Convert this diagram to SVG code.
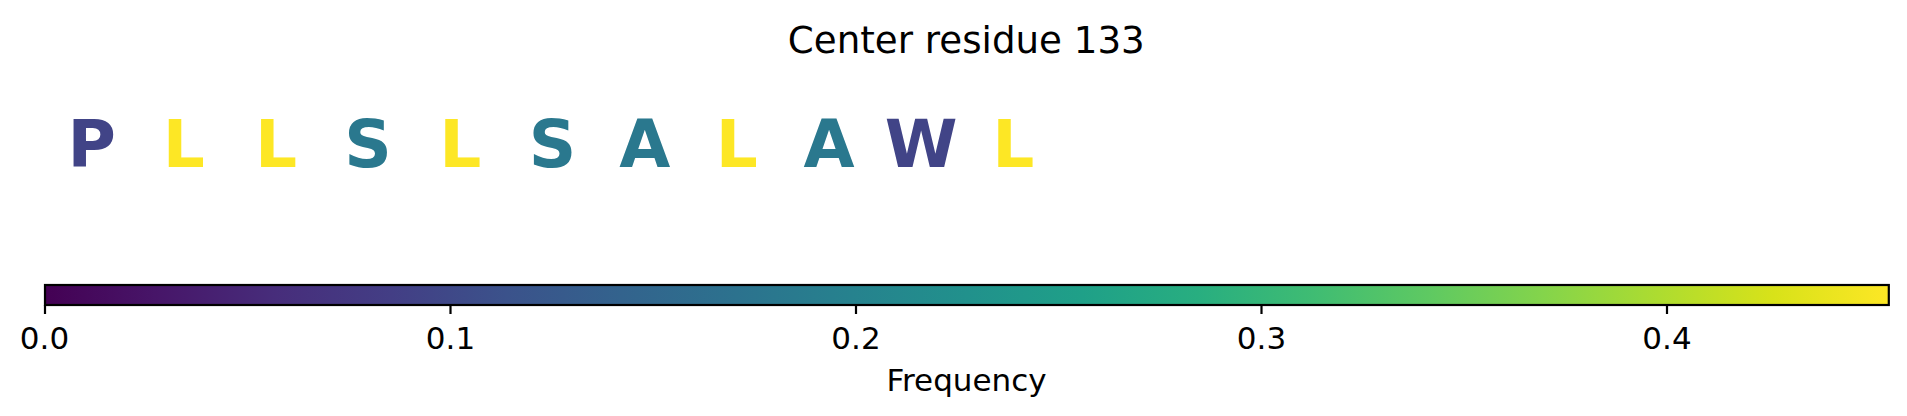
<svg xmlns="http://www.w3.org/2000/svg" width="1907" height="416" viewBox="0 0 1907 416">
<defs>
<linearGradient id="viridis" x1="0" y1="0" x2="1" y2="0">
<stop offset="0" stop-color="#440154"/>
<stop offset="0.0625" stop-color="#471669"/>
<stop offset="0.125" stop-color="#472d7b"/>
<stop offset="0.1875" stop-color="#433e85"/>
<stop offset="0.25" stop-color="#3b528b"/>
<stop offset="0.3125" stop-color="#33638d"/>
<stop offset="0.375" stop-color="#2c728e"/>
<stop offset="0.4375" stop-color="#26828e"/>
<stop offset="0.5" stop-color="#21918c"/>
<stop offset="0.5625" stop-color="#1fa088"/>
<stop offset="0.625" stop-color="#28ae80"/>
<stop offset="0.6875" stop-color="#3fbc73"/>
<stop offset="0.75" stop-color="#5ec962"/>
<stop offset="0.8125" stop-color="#84d44b"/>
<stop offset="0.875" stop-color="#addc30"/>
<stop offset="0.9375" stop-color="#d8e219"/>
<stop offset="1" stop-color="#fde725"/>
</linearGradient>
</defs>
<style>
.res{font-family:"DejaVu Sans",sans-serif;font-weight:bold;font-size:66px;text-anchor:middle}
.lbl{font-family:"DejaVu Sans",sans-serif;font-size:31px;fill:#000;text-anchor:middle}
.ttl{font-family:"DejaVu Sans",sans-serif;font-size:37.2px;fill:#000;text-anchor:middle}
.tick{stroke:#000;stroke-width:2.2}
</style>
<rect width="1907" height="416" fill="#fff"/>
<text class="ttl" x="966.3" y="52.5">Center residue 133</text>
<g id="residues">
<text id="r1" class="res" x="91.6" y="167.3" fill="#414487">P</text>
<text id="r2" class="res" x="183.8" y="167.3" fill="#fde725">L</text>
<text id="r3" class="res" x="276" y="167.3" fill="#fde725">L</text>
<text id="r4" class="res" x="368.1" y="167.3" fill="#2a788e">S</text>
<text id="r5" class="res" x="460.3" y="167.3" fill="#fde725">L</text>
<text id="r6" class="res" x="552.5" y="167.3" fill="#2a788e">S</text>
<text id="r7" class="res" x="644.7" y="167.3" fill="#2a788e">A</text>
<text id="r8" class="res" x="736.9" y="167.3" fill="#fde725">L</text>
<text id="r9" class="res" x="829" y="167.3" fill="#2a788e">A</text>
<text id="r10" class="res" x="921.2" y="167.3" fill="#414487">W</text>
<text id="r11" class="res" x="1013.4" y="167.3" fill="#fde725">L</text>
</g>
<g id="colorbar">
<rect x="45" y="285" width="1843.8" height="20" fill="url(#viridis)" stroke="#000" stroke-width="2.2"/>
<line class="tick" x1="45" y1="305" x2="45" y2="314"/>
<line class="tick" x1="450.5" y1="305" x2="450.5" y2="314"/>
<line class="tick" x1="856" y1="305" x2="856" y2="314"/>
<line class="tick" x1="1261.5" y1="305" x2="1261.5" y2="314"/>
<line class="tick" x1="1667" y1="305" x2="1667" y2="314"/>
<text class="lbl" x="44.5" y="349">0.0</text>
<text class="lbl" x="450.5" y="349">0.1</text>
<text class="lbl" x="856" y="349">0.2</text>
<text class="lbl" x="1261.5" y="349">0.3</text>
<text class="lbl" x="1667" y="349">0.4</text>
<text class="lbl" x="966.5" y="390.5">Frequency</text>
</g>
</svg>
